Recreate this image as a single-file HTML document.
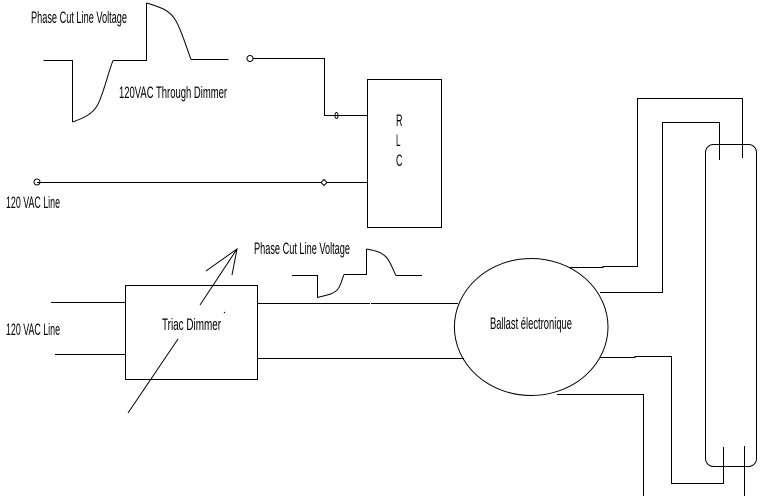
<!DOCTYPE html>
<html><head><meta charset="utf-8"><style>
html,body{margin:0;padding:0;background:#fff;width:772px;height:496px;overflow:hidden}
svg{display:block}
text{font-family:"Liberation Sans",sans-serif;font-size:16.5px;fill:#000}
</style></head><body>
<svg width="772" height="496" viewBox="0 0 772 496" xmlns="http://www.w3.org/2000/svg">
<g fill="none" stroke="#000" stroke-width="1">
<path shape-rendering="crispEdges" d="M43.5 60.5H72.5V122M113 60.5H146.5V3M191 59.5H228.5"/>
<path d="M72.5 122C84 118 92 114 97 106C103 96 107 76 113 60.5"/>
<path d="M146.5 3C160 7 170 10 176 21C182 32 186 46 191 59.5"/>
<circle cx="250" cy="58.5" r="3"/>
<path shape-rendering="crispEdges" d="M253 58.5H324.5V115.5H367.5M37 182.5H367.5"/>
<ellipse cx="336.5" cy="115.5" rx="1.5" ry="3"/>
<circle cx="37" cy="182" r="3"/>
<path d="M324 179.5L327 182.5L324 185.5L321 182.5Z" fill="#fff"/>
<rect x="367.5" y="79.5" width="74" height="148" shape-rendering="crispEdges"/>
<rect x="125.5" y="285.5" width="132" height="94" shape-rendering="crispEdges"/>
<path shape-rendering="crispEdges" d="M51 302.5H125M55 354.5H125"/>
<path d="M128 413L178 339M200 305L237 249M206 271L237 249L232 275M225 312L224 313"/>
<path shape-rendering="crispEdges" d="M257 303.5H370M371 303.5H458M257 358.5H464M292 275.5H317.5V298M344 274.5H366.5V249M396 275.5H422"/>
<path d="M317.5 297.5C327 295 334 294 338 289C341 285 342 279 344 274.5"/>
<path d="M366.5 249C376 251 382 252 387 258C391 263 393 270 396 275.5"/>
<ellipse cx="531.2" cy="327" rx="76.8" ry="68.5"/>
<path shape-rendering="crispEdges" d="M570 267.5H603V266.5H637.5V98.5H742.5V158M600 292.5H662.5V122.5H719.5V160M600 357.5H635V356.5H671.5V483.5H723.5V447M557 394.5H643.5V496M744.5 446V496"/>
<rect x="705.5" y="144.5" width="51" height="322" rx="8" ry="8"/>
</g>
<text x="31" y="23" textLength="96" lengthAdjust="spacingAndGlyphs">Phase Cut Line Voltage</text>
<text x="119" y="98" textLength="108" lengthAdjust="spacingAndGlyphs">120VAC Through Dimmer</text>
<text x="6" y="208" textLength="54" lengthAdjust="spacingAndGlyphs">120 VAC Line</text>
<text x="396" y="126" textLength="6.5" lengthAdjust="spacingAndGlyphs">R</text>
<text x="396" y="146" textLength="4.5" lengthAdjust="spacingAndGlyphs">L</text>
<text x="396" y="166" textLength="6.5" lengthAdjust="spacingAndGlyphs">C</text>
<text x="254" y="254" textLength="96" lengthAdjust="spacingAndGlyphs">Phase Cut Line Voltage</text>
<text x="6" y="335" textLength="54" lengthAdjust="spacingAndGlyphs">120 VAC Line</text>
<text x="162" y="330" textLength="59" lengthAdjust="spacingAndGlyphs">Triac Dimmer</text>
<text x="490" y="329" textLength="82" lengthAdjust="spacingAndGlyphs">Ballast électronique</text>
</svg>
</body></html>
